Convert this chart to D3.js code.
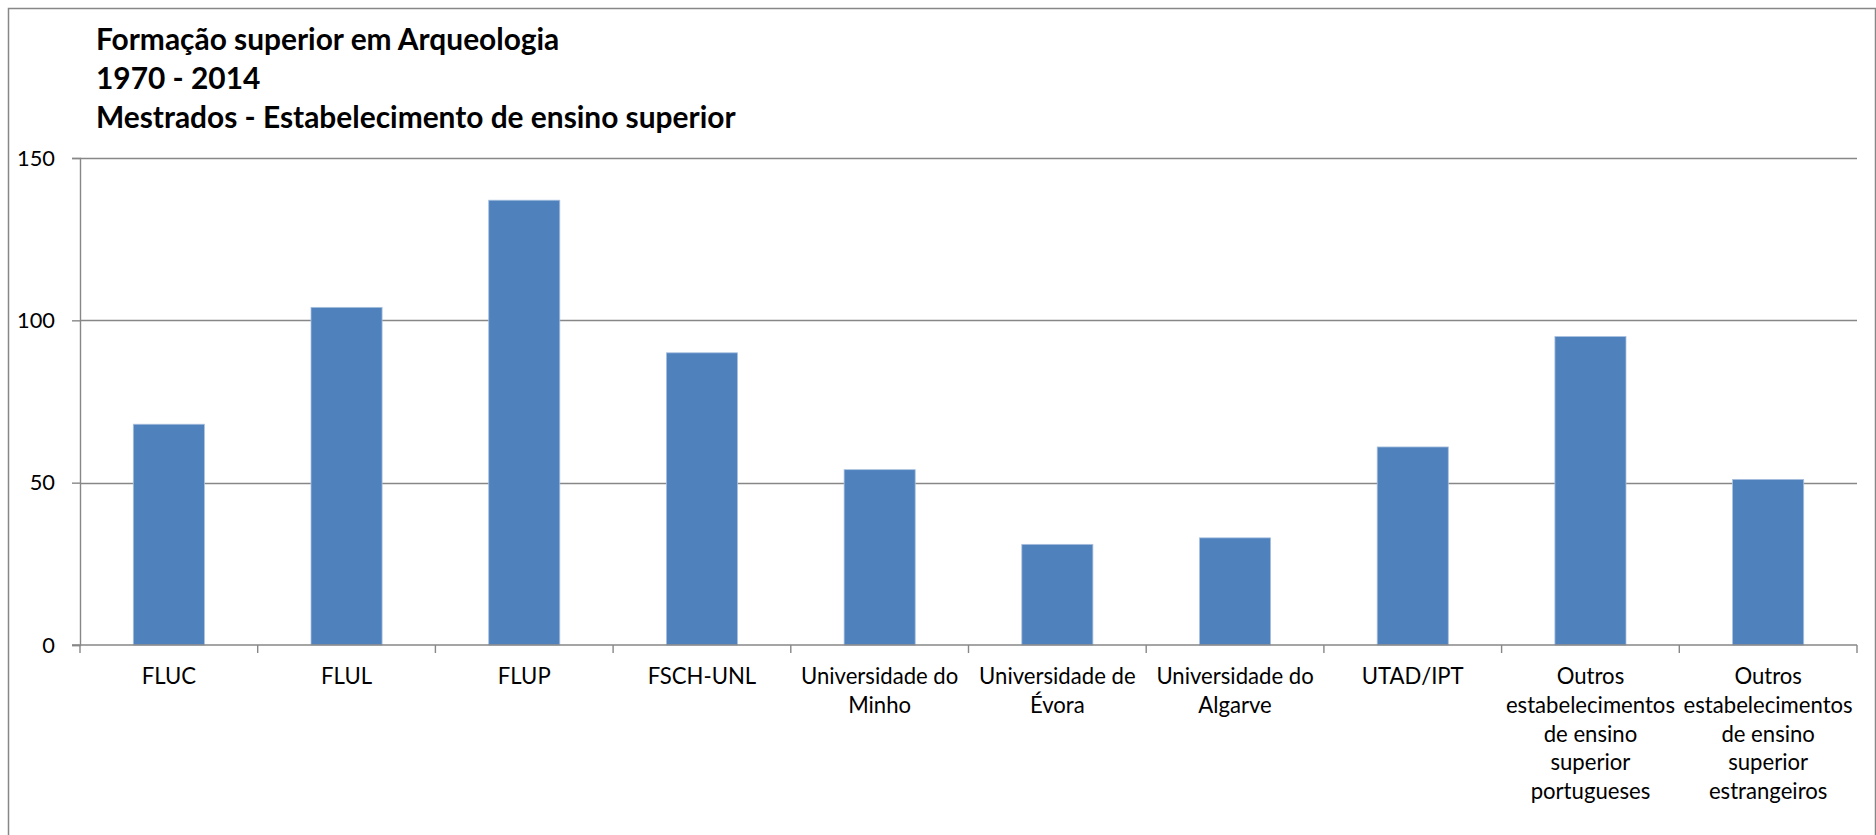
<!DOCTYPE html>
<html>
<head>
<meta charset="utf-8">
<script src="https://cdn.jsdelivr.net/npm/d3@7"></script>
<style>
  html, body { margin: 0; padding: 0; background: #fff; }
  svg { display: block; }
</style>
</head>
<body>
<svg id="chart" width="1876" height="835"></svg>
<script>
// ---- data ----
const titleLines = [
  "Formação superior em Arqueologia",
  "1970 - 2014",
  "Mestrados - Estabelecimento de ensino superior"
];
const categories = [
  "FLUC", "FLUL", "FLUP", "FSCH-UNL", "Universidade do Minho",
  "Universidade de Évora", "Universidade do Algarve", "UTAD/IPT",
  "Outros estabelecimentos de ensino superior portugueses",
  "Outros estabelecimentos de ensino superior estrangeiros"
];
const values = [68, 104, 137, 90, 54, 31, 33, 61, 95, 51];
const yTicks = [0, 50, 100, 150];

// ---- layout ----
const FONT = "Lato, 'Open Sans', sans-serif";
const svg = d3.select("#chart");

// helper: fit font size so text reaches target width
function fitSize(text, weight, target) {
  const t = svg.append("text").attr("font-family", FONT).attr("font-weight", weight)
    .attr("font-size", 100).text(text);
  const w = t.node().getComputedTextLength();
  t.remove();
  return 100 * target / w;
}

const plot = { left: 80, right: 1857, top: 158, bottom: 645 };

const x = d3.scaleBand().domain(categories)
  .range([plot.left, plot.right]).paddingInner(0.6).paddingOuter(0.3);
const y = d3.scaleLinear().domain([0, 150]).range([plot.bottom, plot.top]);

// outer border
svg.append("rect").attr("x", 8.5).attr("y", 8.5).attr("width", 1867).attr("height", 840)
  .attr("fill", "#fff").attr("stroke", "#878787").attr("stroke-width", 1.5);

// title
const titleSize = (fitSize(titleLines[2], "bold", 639) + fitSize(titleLines[0], "bold", 464)) / 2;
const title = svg.append("text").attr("font-family", FONT).attr("font-weight", "bold")
  .attr("font-size", titleSize).attr("fill", "#000");
titleLines.forEach((l, i) => {
  title.append("tspan").attr("x", 96).attr("y", 50 + i * 39).text(l);
});

// gridlines
svg.append("g").selectAll("line").data(yTicks.filter(d => d > 0)).join("line")
  .attr("x1", plot.left).attr("x2", plot.right)
  .attr("y1", d => Math.round(y(d)) + 0.5).attr("y2", d => Math.round(y(d)) + 0.5)
  .attr("stroke", "#878787").attr("stroke-width", 1.4);

// bars
svg.append("g").selectAll("rect").data(values).join("rect")
  .attr("x", (d, i) => x(categories[i]))
  .attr("width", x.bandwidth())
  .attr("y", d => y(d))
  .attr("height", d => y(0) - y(d))
  .attr("fill", "#4f81bd")
  .attr("stroke", "#a9c0de").attr("stroke-width", 0.8);

// y axis
const tickFont = fitSize("150", "normal", 38);
const yAxis = svg.append("g").attr("transform", `translate(${plot.left},0)`)
  .call(d3.axisLeft(y).tickValues(yTicks).tickSize(8).tickPadding(17).tickFormat(d3.format("d")));
yAxis.selectAll("path, line").attr("stroke", "#878787").attr("stroke-width", 1.4);
yAxis.selectAll("text").attr("font-family", FONT).attr("font-size", tickFont).attr("fill", "#000");

// x axis line and boundary ticks
const step = x.step();
const bounds = d3.range(categories.length + 1).map(i => plot.left + i * step);
svg.append("line").attr("x1", plot.left - 8).attr("x2", plot.right)
  .attr("y1", y(0)).attr("y2", y(0)).attr("stroke", "#878787").attr("stroke-width", 1.4);
svg.append("g").selectAll("line").data(bounds).join("line")
  .attr("x1", d => d).attr("x2", d => d)
  .attr("y1", y(0)).attr("y2", y(0) + 8)
  .attr("stroke", "#878787").attr("stroke-width", 1.4);

// category labels (wrapped to band width)
const catFont = fitSize("Universidade de", "normal", 156.5);
const labels = svg.append("g").attr("font-family", FONT).attr("font-size", catFont)
  .attr("fill", "#000").attr("text-anchor", "middle");
categories.forEach(c => {
  const cx = x(c) + x.bandwidth() / 2;
  const t = labels.append("text");
  const words = c.split(" ");
  let lines = [], cur = [];
  const probe = labels.append("text");
  words.forEach(w => {
    const test = cur.concat([w]).join(" ");
    probe.text(test);
    if (cur.length && probe.node().getComputedTextLength() > step - 4) {
      lines.push(cur.join(" "));
      cur = [w];
    } else cur.push(w);
  });
  lines.push(cur.join(" "));
  probe.remove();
  lines.forEach((l, i) => {
    t.append("tspan").attr("x", cx).attr("y", 684 + i * 28.8).text(l);
  });
});
</script>
</body>
</html>
